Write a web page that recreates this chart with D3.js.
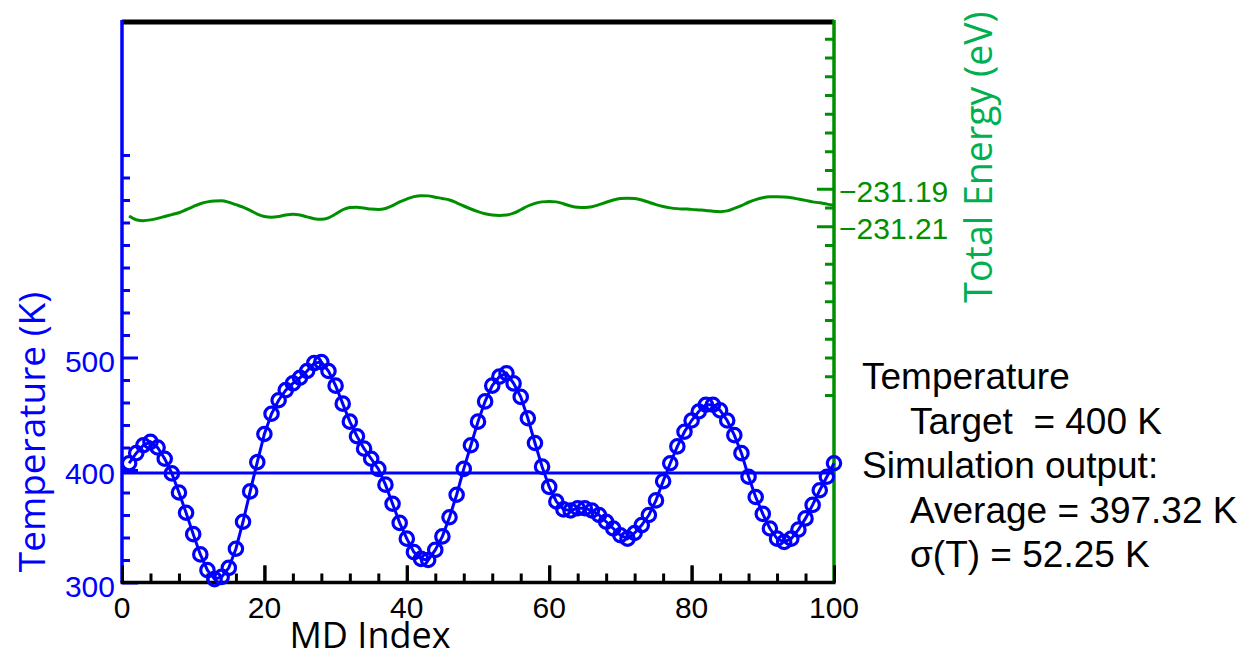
<!DOCTYPE html>
<html>
<head>
<meta charset="utf-8">
<script src="https://cdn.jsdelivr.net/npm/d3@7"></script>
<style>
  body { margin: 0; background: #fff; }
  svg { display: block; }
</style>
</head>
<body>
<div class="canvas"></div>
<script>
// data
const mdIndex = d3.range(1, 101);
const temperature = [
  406, 415, 422, 425, 420, 410, 397, 380, 362, 343,
  325, 311, 303, 305, 313, 330, 354, 381, 407, 432,
  450, 462, 471, 477, 482, 488, 495, 496, 488, 475,
  459, 443, 430, 419, 410, 401, 387, 370, 353, 339,
  327, 321, 320, 329, 341, 358, 378, 401, 422, 443,
  461, 475, 483, 486, 477, 465, 446, 424, 403, 385,
  372, 365, 364, 366, 366, 364, 360, 354, 348, 342,
  339, 344, 351, 360, 373, 390, 406, 421, 434, 444,
  452, 458, 458, 453, 444, 431, 415, 394, 376, 361,
  348, 339, 336, 339, 347, 357, 369, 382, 394, 406
];
const energy = [
  -231.2045, -231.2065, -231.2070, -231.2066, -231.2058, -231.2048, -231.2038, -231.2028, -231.2012, -231.1995,
  -231.1980, -231.1970, -231.1965, -231.1964, -231.1972, -231.1985, -231.1998, -231.2015, -231.2035, -231.2048,
  -231.2052, -231.2048, -231.2040, -231.2036, -231.2040, -231.2050, -231.2060, -231.2063, -231.2055, -231.2035,
  -231.2012, -231.2000, -231.1998, -231.2003, -231.2008, -231.2010, -231.2005, -231.1990, -231.1970, -231.1955,
  -231.1942, -231.1937, -231.1938, -231.1945, -231.1952, -231.1960, -231.1975, -231.1992, -231.2008, -231.2022,
  -231.2033, -231.2040, -231.2042, -231.2040, -231.2030, -231.2012, -231.1992, -231.1978, -231.1970, -231.1968,
  -231.1970, -231.1980, -231.1992, -231.1999, -231.2000, -231.1996, -231.1985, -231.1972, -231.1960, -231.1952,
  -231.1950, -231.1952, -231.1960, -231.1972, -231.1985, -231.1995, -231.2002, -231.2006, -231.2008, -231.2010,
  -231.2013, -231.2016, -231.2020, -231.2022, -231.2018, -231.2005, -231.1990, -231.1972, -231.1958, -231.1948,
  -231.1943, -231.1942, -231.1944, -231.1948, -231.1955, -231.1962, -231.1970, -231.1975, -231.1982, -231.1988
];
const averageT = 397.32;
const xTickLabels = [0, 20, 40, 60, 80, 100];
const tempTickLabels = [300, 400, 500];
const energyTickLabels = [-231.19, -231.21];
const infoLines = [
  { text: 'Temperature', indent: false },
  { text: 'Target\u00a0\u00a0= 400 K', indent: true },
  { text: 'Simulation output:', indent: false },
  { text: 'Average = 397.32 K', indent: true },
  { text: '\u03c3(T) = 52.25 K', indent: true }
];

const width = 1245, height = 656;
const plotLeft = 122, plotRight = 834, plotTop = 20, plotBottom = 582.5;
const blue = '#0000ff', green = '#008f00', titleGreen = '#00b050';
const tickFont = '"Liberation Sans", Arial, sans-serif';
const titleFont = '"Open Sans", sans-serif';

const svg = d3.select('.canvas')
  .append('svg')
  .attr('width', width)
  .attr('height', height);

const x = d3.scaleLinear().domain([0, 100]).range([plotLeft, plotRight]);
const yT = d3.scaleLinear().domain([300, 800]).range([plotBottom, plotTop]);
const yE = d3.scaleLinear().domain([-231.40, -231.10]).range([plotBottom, plotTop]);

// top border
svg.append('line')
  .attr('x1', plotLeft).attr('x2', plotRight)
  .attr('y1', plotTop + 2).attr('y2', plotTop + 2)
  .attr('stroke', 'black').attr('stroke-width', 5);

// left axis (temperature), ticks pointing inward
const tempTicks = d3.range(300, 700, 20);
const yAxisL = d3.axisRight(yT)
  .tickValues(tempTicks)
  .tickSize(8)
  .tickFormat('');
const gL = svg.append('g')
  .attr('transform', `translate(${plotLeft},0)`)
  .call(yAxisL);
gL.select('.domain').remove();
gL.selectAll('line').attr('stroke', blue).attr('stroke-width', 3);
gL.selectAll('.tick')
  .filter(d => tempTickLabels.includes(d))
  .select('line').attr('x2', 16);
svg.append('line')
  .attr('x1', plotLeft).attr('x2', plotLeft)
  .attr('y1', plotTop).attr('y2', plotBottom)
  .attr('stroke', blue).attr('stroke-width', 3.5);
svg.selectAll('.tlabel')
  .data(tempTickLabels)
  .enter().append('text')
  .attr('class', 'tlabel')
  .attr('x', 115)
  .attr('y', d => yT(d) + 14)
  .attr('text-anchor', 'end')
  .attr('fill', blue)
  .style('font-family', tickFont)
  .style('font-size', '30px')
  .text(d => d);

// right axis (energy), ticks pointing inward
const energyTicks = d3.range(0, 20).map(k => -231.11 - k * 0.01);
const yAxisR = d3.axisLeft(yE)
  .tickValues(energyTicks)
  .tickSize(9)
  .tickFormat('');
const gR = svg.append('g')
  .attr('transform', `translate(${plotRight},0)`)
  .call(yAxisR);
gR.select('.domain').remove();
gR.selectAll('line').attr('stroke', green).attr('stroke-width', 3);
gR.selectAll('.tick')
  .filter(d => energyTickLabels.some(v => Math.abs(v - d) < 1e-6))
  .select('line').attr('x2', -17);
svg.append('line')
  .attr('x1', plotRight).attr('x2', plotRight)
  .attr('y1', plotTop).attr('y2', plotBottom)
  .attr('stroke', green).attr('stroke-width', 3.5);
svg.selectAll('.elabel')
  .data(energyTickLabels)
  .enter().append('text')
  .attr('class', 'elabel')
  .attr('x', 839)
  .attr('y', d => yE(d) + 13)
  .attr('fill', green)
  .style('font-family', tickFont)
  .style('font-size', '30px')
  .text(d => '\u2212' + Math.abs(d).toFixed(2));

// energy line
svg.append('path')
  .datum(mdIndex)
  .attr('fill', 'none')
  .attr('stroke', green)
  .attr('stroke-width', 3)
  .attr('d', d3.line()
    .x(i => x(i))
    .y((i, k) => yE(energy[k]))
    .curve(d3.curveMonotoneX));

// average line
svg.append('line')
  .attr('x1', x(0)).attr('x2', x(100))
  .attr('y1', yT(averageT)).attr('y2', yT(averageT))
  .attr('stroke', blue).attr('stroke-width', 3);

// temperature line + circles
svg.append('path')
  .datum(mdIndex)
  .attr('fill', 'none')
  .attr('stroke', blue)
  .attr('stroke-width', 3)
  .attr('d', d3.line()
    .x(i => x(i))
    .y((i, k) => yT(temperature[k])));

// bottom axis
const xAxis = d3.axisTop(x)
  .tickValues(d3.range(0, 101, 4).concat(xTickLabels))
  .tickSize(9)
  .tickFormat('');
const gX = svg.append('g')
  .attr('transform', `translate(0,${plotBottom})`)
  .call(xAxis);
gX.select('.domain').remove();
gX.selectAll('line').attr('stroke', 'black').attr('stroke-width', 3);
gX.selectAll('.tick')
  .filter(d => d % 20 === 0)
  .select('line').attr('y2', -17);
svg.append('line')
  .attr('x1', plotLeft - 1.5).attr('x2', plotRight + 1.5)
  .attr('y1', plotBottom).attr('y2', plotBottom)
  .attr('stroke', 'black').attr('stroke-width', 3.5);
svg.selectAll('.xlabel')
  .data(xTickLabels)
  .enter().append('text')
  .attr('class', 'xlabel')
  .attr('x', d => x(d))
  .attr('y', 618)
  .attr('text-anchor', 'middle')
  .attr('fill', 'black')
  .style('font-family', tickFont)
  .style('font-size', '30px')
  .text(d => d);

svg.selectAll('circle')
  .data(mdIndex)
  .enter().append('circle')
  .attr('cx', i => x(i))
  .attr('cy', (i, k) => yT(temperature[k]))
  .attr('r', 6.7)
  .attr('fill', 'none')
  .attr('stroke', blue)
  .attr('stroke-width', 3.2);

// axis titles
svg.append('text')
  .attr('transform', 'translate(370,648)')
  .attr('text-anchor', 'middle')
  .attr('fill', 'black')
  .style('font-family', titleFont)
  .style('font-size', '36px')
  .text('MD Index');

svg.append('text')
  .attr('transform', 'translate(45,432) rotate(-90)')
  .attr('text-anchor', 'middle')
  .attr('fill', blue)
  .style('font-family', titleFont)
  .style('font-size', '37px')
  .text('Temperature (K)');

svg.append('text')
  .attr('transform', 'translate(992,157) rotate(-90)')
  .attr('text-anchor', 'middle')
  .attr('fill', titleGreen)
  .style('font-family', titleFont)
  .style('font-size', '37.5px')
  .text('Total Energy (eV)');

// info text block
svg.selectAll('.info')
  .data(infoLines)
  .enter().append('text')
  .attr('class', 'info')
  .attr('x', d => d.indent ? 910 : 862)
  .attr('y', (d, k) => 389 + k * 44.5)
  .attr('fill', 'black')
  .style('font-family', tickFont)
  .style('font-size', '37px')
  .text(d => d.text);
</script>
</body>
</html>
